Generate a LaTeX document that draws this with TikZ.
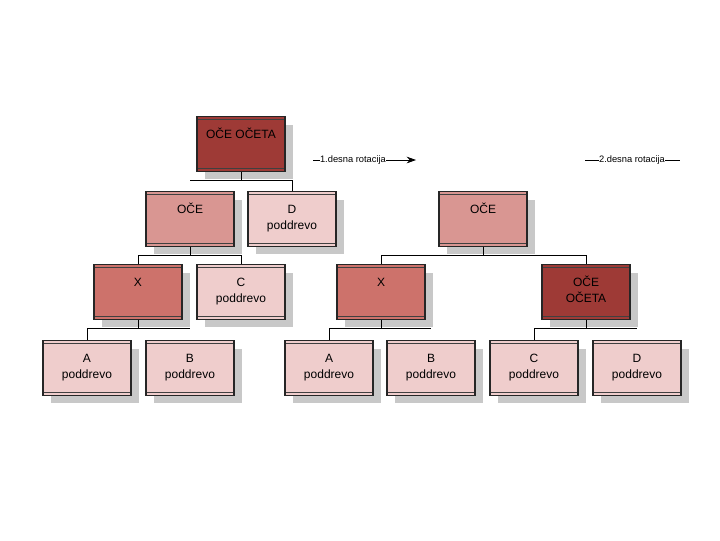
\documentclass[tikz,border=0pt]{standalone}
\usepackage{fontspec}
\setmainfont{Liberation Sans}
\usetikzlibrary{arrows.meta,positioning,shadows}
\definecolor{tatared}{RGB}{158,58,54}
\definecolor{ocered}{RGB}{217,150,146}
\definecolor{xred}{RGB}{205,114,107}
\definecolor{subpink}{RGB}{239,205,204}
\definecolor{shadowgray}{RGB}{200,200,200}
\newcommand{\boxlines}[1]{\parbox[c][41pt][t]{66pt}{\centering\rule{0pt}{16pt}#1}}

\begin{document}
\begin{tikzpicture}[
    x=0.75pt, y=-0.75pt,
    tree/.style={
        draw=black!85,
        line width=0.8pt,
        minimum width=66pt,
        minimum height=41pt,
        inner sep=0pt,
        font=\fontsize{9}{12}\selectfont,
        drop shadow={shadow xshift=6pt,shadow yshift=-6pt,fill=shadowgray,opacity=1},
        path picture={\draw[black!75,line width=0.5pt]
            ([yshift=-2pt]path picture bounding box.north west) -- ([yshift=-2pt]path picture bounding box.north east)
            ([yshift=2pt]path picture bounding box.south west) -- ([yshift=2pt]path picture bounding box.south east);},
    },
    tata/.style={tree,fill=tatared},
    oce/.style={tree,fill=ocered},
    xnode/.style={tree,fill=xred},
    subtree/.style={tree,fill=subpink},
    link/.style={draw=black,line width=0.6pt},
    rotlabel/.style={font=\fontsize{7}{8}\selectfont,inner sep=0pt},
]
\useasboundingbox (0,0) rectangle (720,540);

% before the rotation
\node[tata] (oo1) at (241,144) {\boxlines{OČE OČETA}};
\node[oce] (o1) at (190,219) {\boxlines{OČE}};
\node[subtree] (d1) at (292,219) {\boxlines{D\\poddrevo}};
\node[xnode] (x1) at (138,292) {\boxlines{X}};
\node[subtree] (c1) at (241,292) {\boxlines{C\\poddrevo}};
\node[subtree] (a1) at (87,368) {\boxlines{A\\poddrevo}};
\node[subtree] (b1) at (190,368) {\boxlines{B\\poddrevo}};

% after the rotation
\node[oce] (o2) at (483,219) {\boxlines{OČE}};
\node[xnode] (x2) at (381,292) {\boxlines{X}};
\node[tata] (oo2) at (586,292) {\boxlines{OČE\\OČETA}};
\node[subtree] (a2) at (329,368) {\boxlines{A\\poddrevo}};
\node[subtree] (b2) at (431,368) {\boxlines{B\\poddrevo}};
\node[subtree] (c2) at (534,368) {\boxlines{C\\poddrevo}};
\node[subtree] (d2) at (637,368) {\boxlines{D\\poddrevo}};

% connectors
\draw[link] (oo1.south) -- ++(0,9) coordinate (bus1);
\draw[link] (o1.north |- bus1) -- (d1.north |- bus1) -- (d1.north);
\draw[link] (o1.south) -- ++(0,9) coordinate (bus2);
\draw[link] (x1.north) -- (x1.north |- bus2) -- (c1.north |- bus2) -- (c1.north);
\draw[link] (x1.south) -- ++(0,9) coordinate (bus3);
\draw[link] (a1.north) -- (a1.north |- bus3) -- (b1.north |- bus3);

\draw[link] (o2.south) -- ++(0,9) coordinate (bus4);
\draw[link] (x2.north) -- (x2.north |- bus4) -- (oo2.north |- bus4) -- (oo2.north);
\draw[link] (x2.south) -- ++(0,9) coordinate (bus5);
\draw[link] (a2.north) -- (a2.north |- bus5) -- (b2.north |- bus5);
\draw[link] (oo2.south) -- ++(0,9) coordinate (bus6);
\draw[link] (c2.north) -- (c2.north |- bus6) -- (d2.north |- bus6);

% rotation labels
\node[rotlabel] (rot1) at (353,160) {1.desna rotacija};
\coordinate (r1a) at (313,160);
\coordinate (r1b) at (416,160);
\draw[link] (r1a) -- (rot1.west);
\draw[link,-{Stealth[length=7pt,width=5pt]}] (rot1.east) -- (r1b);

\node[rotlabel] (rot2) at (632,160) {2.desna rotacija};
\coordinate (r2a) at (585,160);
\coordinate (r2b) at (680,160);
\draw[link] (r2a) -- (rot2.west);
\draw[link] (rot2.east) -- (r2b);
\end{tikzpicture}
\end{document}
